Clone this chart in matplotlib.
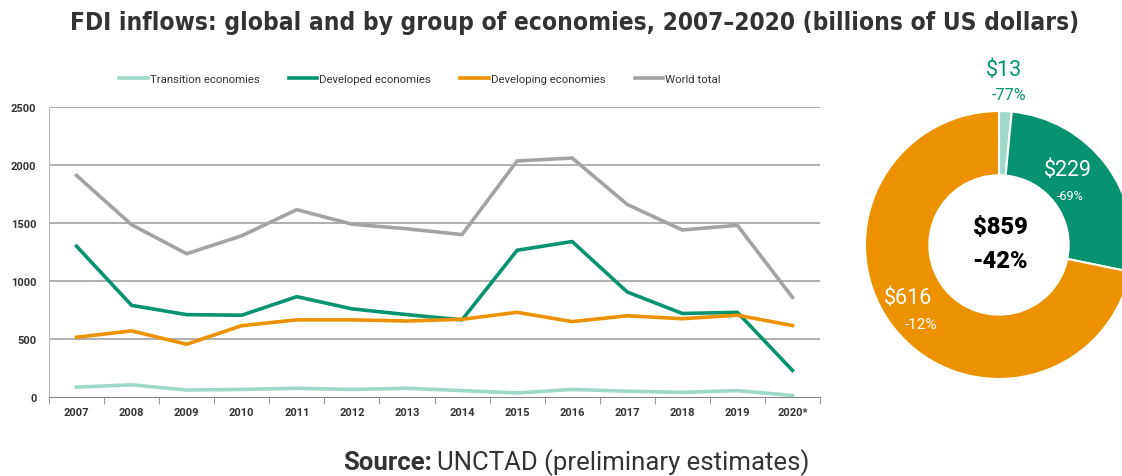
import matplotlib
matplotlib.use("Agg")
import matplotlib.pyplot as plt
from matplotlib import font_manager
from matplotlib.font_manager import FontProperties

# data (billions of US dollars)
years = ["2007", "2008", "2009", "2010", "2011", "2012", "2013",
         "2014", "2015", "2016", "2017", "2018", "2019", "2020*"]
transition = [85, 105, 60, 65, 75, 65, 75, 55, 35, 65, 50, 40, 55, 13]
developed = [1300, 790, 710, 705, 865, 760, 710, 665, 1265, 1340, 905, 720, 730, 229]
developing = [515, 570, 455, 615, 665, 665, 655, 670, 730, 650, 700, 675, 705, 616]
world = [1910, 1485, 1235, 1390, 1615, 1490, 1450, 1400, 2035, 2060, 1660, 1440, 1480, 859]

pie_values = [13, 229, 616]
pie_labels = ["$13", "$229", "$616"]
pie_changes = ["-77%", "-69%", "-12%"]
total_label = "$859"
total_change = "-42%"

C_TRANS = "#9fd8c9"
C_DEVD = "#07936f"
C_DEVG = "#ec9200"
C_WORLD = "#a3a3a3"
DARK = "#333333"

# look for a condensed bold face, otherwise plain Roboto bold
cond = None
for f in font_manager.fontManager.ttflist:
    n = (f.name + " " + f.fname).lower()
    if ("condensed" in n or "narrow" in n) and f.weight in ("bold", 700):
        cond = f.fname
        break
title_font = FontProperties(fname=cond) if cond else FontProperties(family="Roboto", weight="bold")

W, H = 1122, 477
fig = plt.figure(figsize=(W / 100, H / 100), dpi=100)

def box(l, t, r, b):
    return [l / W, 1 - b / H, (r - l) / W, (b - t) / H]

ax = fig.add_axes(box(49, 108, 820, 398))
x = list(range(len(years)))
ax.plot(x, transition, color=C_TRANS, lw=2.6, label="Transition economies")
ax.plot(x, developed, color=C_DEVD, lw=2.6, label="Developed economies")
ax.plot(x, developing, color=C_DEVG, lw=2.6, label="Developing economies")
ax.plot(x, world, color=C_WORLD, lw=2.6, label="World total")

ax.set_xlim(-0.5, len(years) - 0.5)
ax.set_ylim(0, 2500)
ax.set_yticks([0, 500, 1000, 1500, 2000, 2500])
for yv in [500, 1000, 1500, 2000, 2500]:
    ax.axhline(yv, color="#9a9a9a", lw=1.1, zorder=0)
ax.set_xticks(x)
ax.set_xticklabels(years)
ax.set_xticks([i - 0.5 for i in range(len(years) + 1)], minor=True)
ax.tick_params(axis="x", which="major", length=0, pad=7)
ax.tick_params(axis="x", which="minor", length=5, color="#888888")
ax.tick_params(axis="y", length=0, pad=9)
for lab in ax.get_xticklabels() + ax.get_yticklabels():
    lab.set_fontfamily("Roboto")
    lab.set_fontweight("bold")
    lab.set_fontsize(8)
    lab.set_color(DARK)
for s in ["top", "right"]:
    ax.spines[s].set_visible(False)
ax.spines["bottom"].set_color("#888888")
ax.spines["left"].set_color("#bbbbbb")
ax.spines["left"].set_linestyle((0, (1, 1)))

fig.legend(loc="center", bbox_to_anchor=(420 / W, 1 - 80 / H), ncol=4, frameon=False,
           handlelength=2.5, handletextpad=0.15, columnspacing=2.6,
           prop={"family": "Roboto", "size": 8.2})
for t in fig.legends[0].get_texts():
    t.set_color(DARK)

# donut
cx, cy, r = 999, 246, 134
pax = fig.add_axes(box(cx - r, cy - r, cx + r, cy + r))
pax.pie(pie_values, colors=[C_TRANS, C_DEVD, C_DEVG], startangle=90, counterclock=False,
        radius=1, wedgeprops=dict(width=0.48, edgecolor="white", linewidth=1.5))
pax.set_xlim(-1, 1)
pax.set_ylim(-1, 1)
pax.set_aspect("equal")

def ftext(px, py, s, **kw):
    return fig.text(px / W, 1 - py / H, s.replace("$", "\\$"), ha="center", va="center",
                    family="Roboto", **kw)

ftext(1004, 70, pie_labels[0], color=C_DEVD, fontsize=15.5)
ftext(1009, 95, pie_changes[0], color=C_DEVD, fontsize=11.5)
ftext(1068, 171, pie_labels[1], color="white", fontsize=15.5)
ftext(1070, 196, pie_changes[1], color="white", fontsize=9)
ftext(908, 298, pie_labels[2], color="white", fontsize=15.5)
ftext(921, 325, pie_changes[2], color="white", fontsize=11)
ftext(1000, 228, total_label, color="black", fontsize=17, fontweight="heavy")
ftext(1000, 261, total_change, color="black", fontsize=17, fontweight="heavy")

title = fig.text(575 / W, 1 - 23 / H,
                 "FDI inflows: global and by group of economies, 2007\u20132020 (billions of US dollars)",
                 ha="center", va="center", fontproperties=title_font, color=DARK)
title.set_fontsize(19)
fig.canvas.draw()
tw = title.get_window_extent().width
if tw > 1006:
    title.set_fontsize(19 * 1006 / tw)

t1 = fig.text(343 / W, 1 - 463 / H, "Source:", ha="left", va="center", family="Roboto",
              fontweight="bold", fontsize=18.5, color=DARK)
fig.canvas.draw()
bb = t1.get_window_extent()
fig.text((bb.x1 + 5) / W, 1 - 463 / H, "UNCTAD (preliminary estimates)", ha="left", va="center",
         family="Roboto", fontsize=18.5, color=DARK)

fig.savefig("out.png", dpi=100)
